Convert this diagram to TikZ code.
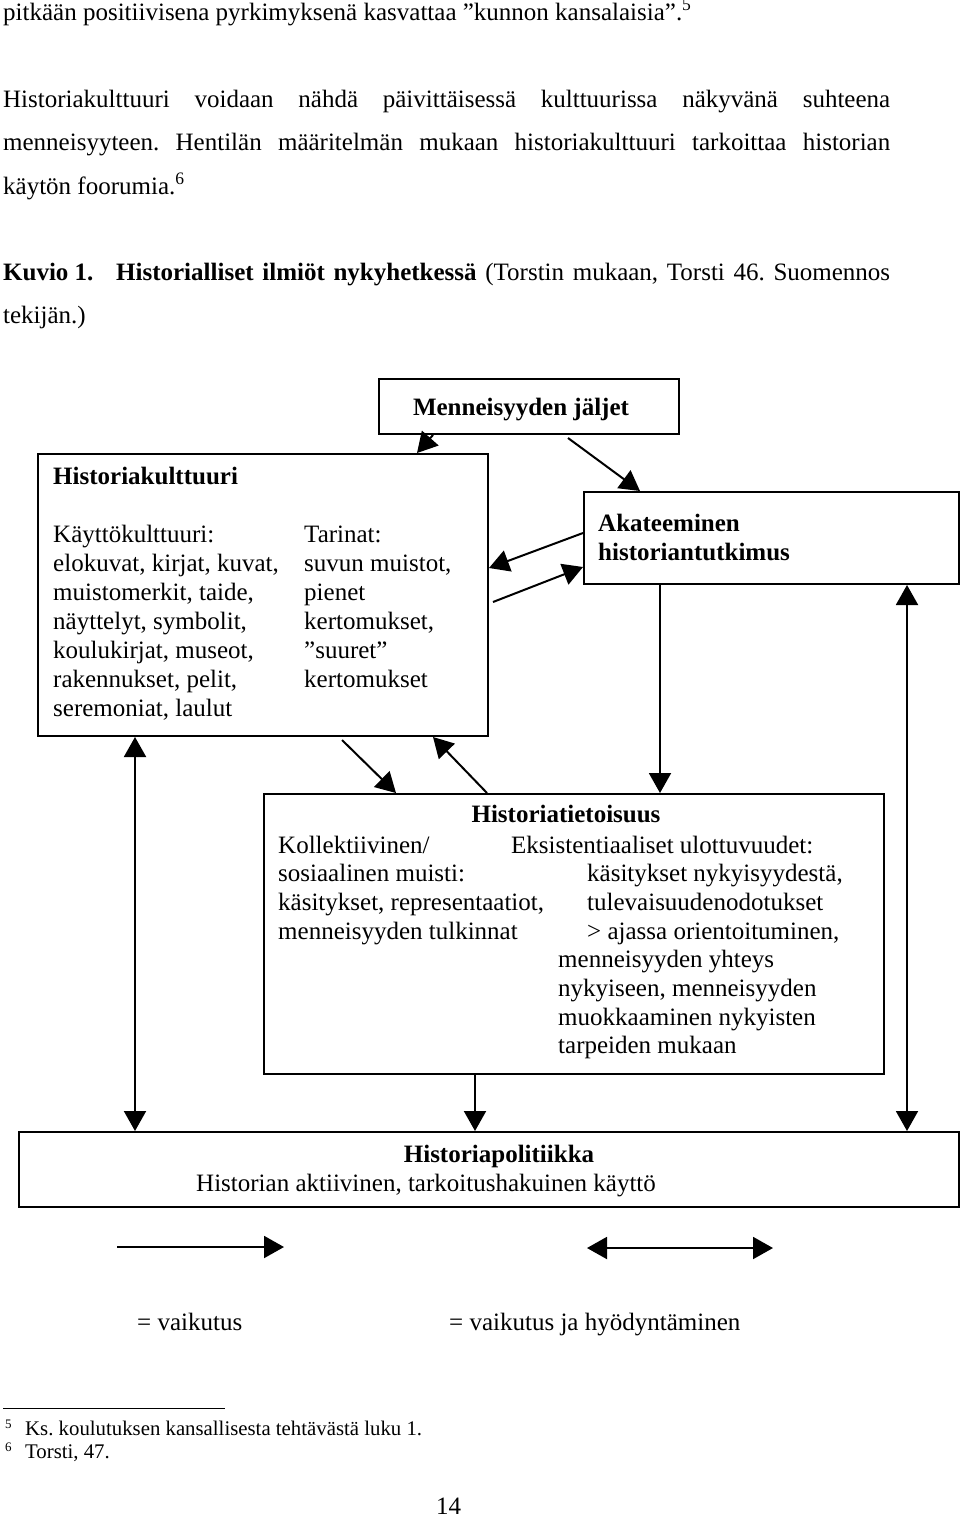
\documentclass[tikz,border=0pt]{standalone}
\usepackage{fontspec}
\setmainfont{Liberation Serif}
\usetikzlibrary{arrows.meta}
\newcommand\fsA{\fontsize{25}{29}\selectfont\frenchspacing}
\newcommand\fsF{\fontsize{20.8}{24}\selectfont\frenchspacing}
\newcommand\fsS{\fontsize{13}{15}\selectfont}
\begin{document}
\begin{tikzpicture}[x=1pt,y=-1pt,
  txt/.style={anchor=base west, inner sep=0pt, font=\fsA},
  ctxt/.style={anchor=base, inner sep=0pt, font=\fsA\bfseries},
  ftxt/.style={anchor=base west, inner sep=0pt, font=\fsF},
  stxt/.style={anchor=base west, inner sep=0pt, font=\fsS},
  box/.style={draw, line width=2pt, inner sep=0pt, anchor=north west},
  arr/.style={line width=2pt, -{Triangle[length=20pt,width=22pt]}},
  darr/.style={line width=2pt, {Triangle[length=20pt,width=22pt]}-{Triangle[length=20pt,width=22pt]}},
]
\fill[white] (0,0) rectangle (960,1518);
\useasboundingbox (0,0) rectangle (960,1518);

% body text
\node[txt] (l1) at (3,20) {pitkään positiivisena pyrkimyksenä kasvattaa ”kunnon kansalaisia”.\textsuperscript{5}};
\node[txt] (l2) at (3,107) {\makebox[887pt][s]{Historiakulttuuri voidaan nähdä päivittäisessä kulttuurissa näkyvänä suhteena}};
\node[txt] (l3) at (3,150) {\makebox[887pt][s]{menneisyyteen. Hentilän määritelmän mukaan historiakulttuuri tarkoittaa historian}};
\node[txt] (l4) at (3,194) {käytön foorumia.\textsuperscript{6}};
\node[txt] (cap1) at (3,280) {\makebox[113pt][l]{\bfseries Kuvio 1.}\makebox[774pt][s]{\bfseries Historialliset ilmiöt nykyhetkessä\mdseries{} (Torstin mukaan, Torsti 46. Suomennos}};
\node[txt] (cap2) at (3,323) {tekijän.)};

% boxes
\node[box, minimum width=300pt, minimum height=55pt] (mj) at (378,378) {};
\node[box, minimum width=450pt, minimum height=282pt] (hk) at (37,453) {};
\node[box, minimum width=375pt, minimum height=92pt] (ak) at (583,491) {};
\node[box, minimum width=620pt, minimum height=280pt] (ht) at (263,793) {};
\node[box, minimum width=940pt, minimum height=75pt] (hp) at (18,1131) {};

% box texts
\node[ctxt] (mjt) at (521,415) {Menneisyyden jäljet};
\node[txt, font=\fsA\bfseries] (hkt) at (53,484) {Historiakulttuuri};
\foreach \t [count=\i from 0] in {Käyttökulttuuri:,{elokuvat, kirjat, kuvat,},{muistomerkit, taide,},{näyttelyt, symbolit,},{koulukirjat, museot,},{rakennukset, pelit,},{seremoniat, laulut}}
  \node[txt, name=hka\i] at (53,542+29*\i) {\t};
\foreach \t [count=\i from 0] in {Tarinat:,{suvun muistot,},pienet,{kertomukset,},”suuret”,kertomukset}
  \node[txt, name=hkb\i] at (304,542+29*\i) {\t};

\node[txt, font=\fsA\bfseries] (ak1) at (598,531) {Akateeminen};
\node[txt, font=\fsA\bfseries] (ak2) at (598,560) {historiantutkimus};

\node[ctxt] (htt) at (566,822) {Historiatietoisuus};
\foreach \t [count=\i from 0] in {Kollektiivinen/,sosiaalinen muisti:,{käsitykset, representaatiot,},menneisyyden tulkinnat}
  \node[txt, name=hta\i] at (278,853+28.7*\i) {\t};
\node[txt] (htb0) at (511,853) {Eksistentiaaliset ulottuvuudet:};
\node[txt] (htb1) at (587,881.7) {käsitykset nykyisyydestä,};
\node[txt] (htb2) at (587,910.4) {tulevaisuudenodotukset};
\node[txt] (htb3) at (587,939.1) {> ajassa orientoituminen,};
\node[txt] (htb4) at (558,967.8) {menneisyyden yhteys};
\node[txt] (htb5) at (558,996.5) {nykyiseen, menneisyyden};
\node[txt] (htb6) at (558,1025.2) {muokkaaminen nykyisten};
\node[txt] (htb7) at (558,1053.9) {tarpeiden mukaan};

\node[ctxt] (hpt) at (499,1162) {Historiapolitiikka};
\node[txt] (hps) at (196,1191) {Historian aktiivinen, tarkoitushakuinen käyttö};

% connectors
\coordinate (c1) at (568,438);
\coordinate (c2) at (493,602);
\coordinate (c3) at (342,740);
\draw[arr] (mj.south -| 433,0) -- (hk.north -| 417,0);
\draw[arr] (c1) -- (ak.north -| 640,0);
\draw[arr] (ak.west |- 0,533) -- (hk.east |- 0,568);
\draw[arr] (c2) -- (ak.west |- 0,567);
\draw[arr] (c3) -- (ht.north -| 396,0);
\draw[arr] (ht.north -| 487,0) -- (hk.south -| 433,0);
\draw[arr] (ak.south -| 660,0) -- (ht.north -| 660,0);
\draw[darr] (hk.south -| 135,0) -- (hp.north -| 135,0);
\draw[darr] (ak.south -| 907,0) -- (hp.north -| 907,0);
\draw[arr] (ht.south -| 475,0) -- (hp.north -| 475,0);

% legend
\coordinate (la1) at (117,1247);
\coordinate (la2) at (284,1247);
\coordinate (lb1) at (587,1248);
\coordinate (lb2) at (773,1248);
\draw[arr] (la1) -- (la2);
\draw[darr] (lb1) -- (lb2);
\node[txt] (lt1) at (137,1330) {= vaikutus};
\node[txt] (lt2) at (449,1330) {= vaikutus ja hyödyntäminen};

% footnotes
\coordinate (r1) at (3,1408);
\coordinate (r2) at (225,1408);
\draw[line width=1pt] (r1) -- (r2);
\node[stxt] (f5) at (5,1428) {5};
\node[ftxt] (f5t) at (25,1435) {Ks. koulutuksen kansallisesta tehtävästä luku 1.};
\node[stxt] (f6) at (5,1451) {6};
\node[ftxt] (f6t) at (25,1458) {Torsti, 47.};
\node[txt] (pg) at (436,1514) {14};
\end{tikzpicture}
\end{document}
